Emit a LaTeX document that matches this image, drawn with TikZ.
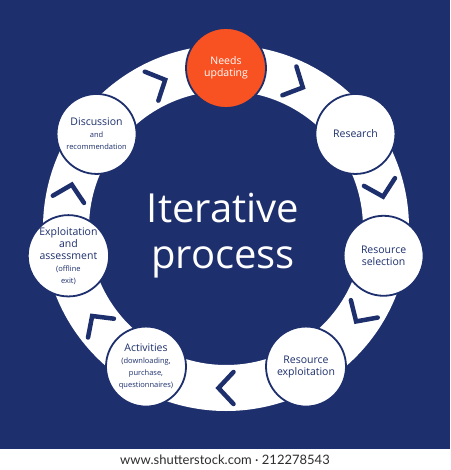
\documentclass[tikz,border=0pt]{standalone}
\usepackage{fontspec}
\setmainfont{Open Sans}
\newfontfamily\footfont{Lato}

\definecolor{bgblue}{RGB}{29,47,108}
\definecolor{hotorange}{RGB}{248,82,34}
\definecolor{footgray}{RGB}{45,45,45}

\newcommand{\smalltxt}{\fontsize{7.5}{10}\selectfont}

\tikzset{
  stage/.style={circle,draw=bgblue,line width=1.8pt,fill=white,minimum size=80pt,
    inner sep=0pt,align=center,text=bgblue,font=\fontsize{10.5}{12}\selectfont},
  chevron/.style={draw=bgblue,line width=4.5pt,line cap=round},
}

\begin{document}
\begin{tikzpicture}[x=1pt,y=1pt]
\useasboundingbox (-226,-242) rectangle (224,228);
\fill[bgblue] (-226,-242) rectangle (224,228);
\fill[white] (-226,-242) rectangle (224,-221);
% ring
\draw[white,line width=46pt] (0,0) circle[radius=160pt];
% chevrons
\foreach \a in {115,64,14,-33,-90,-144,167}{
  \begin{scope}[rotate=\a]
    \draw[chevron] (144,7.5) -- (160,-7.5) -- (176,7.5);
  \end{scope}
}
% stages
\node[stage,fill=hotorange,text=white] (needs) at (90:160) {Needs\\updating};
\node[stage] (research) at (36:160) {Research};
\node[stage] (selection) at (-10:160) {Resource\\selection};
\node[stage] (exploit) at (-60:160) {Resource\\exploitation};
\node[stage] (activities) at (-120:160) {Activities\\{\smalltxt (downloading,}\\{\smalltxt purchase,}\\{\smalltxt questionnaires)}};
\node[stage] (assess) at (190:160) {\rule{0pt}{8pt}Exploitation\\and\\assessment\\{\smalltxt (offline}\\{\smalltxt exit)}};
\node[stage] (discussion) at (144:160) {Discussion\\{\smalltxt and}\\{\smalltxt recommendation}};
% title
\node[text=white,align=center,font=\fontsize{40}{46}\selectfont] (title) at (-3,-8) {Iterative\\process};
% footer
\node[text=footgray,font=\footfont\fontsize{13}{15}\selectfont] (footer) at (-1,-232) {www.shutterstock.com · 212278543};
\end{tikzpicture}
\end{document}
